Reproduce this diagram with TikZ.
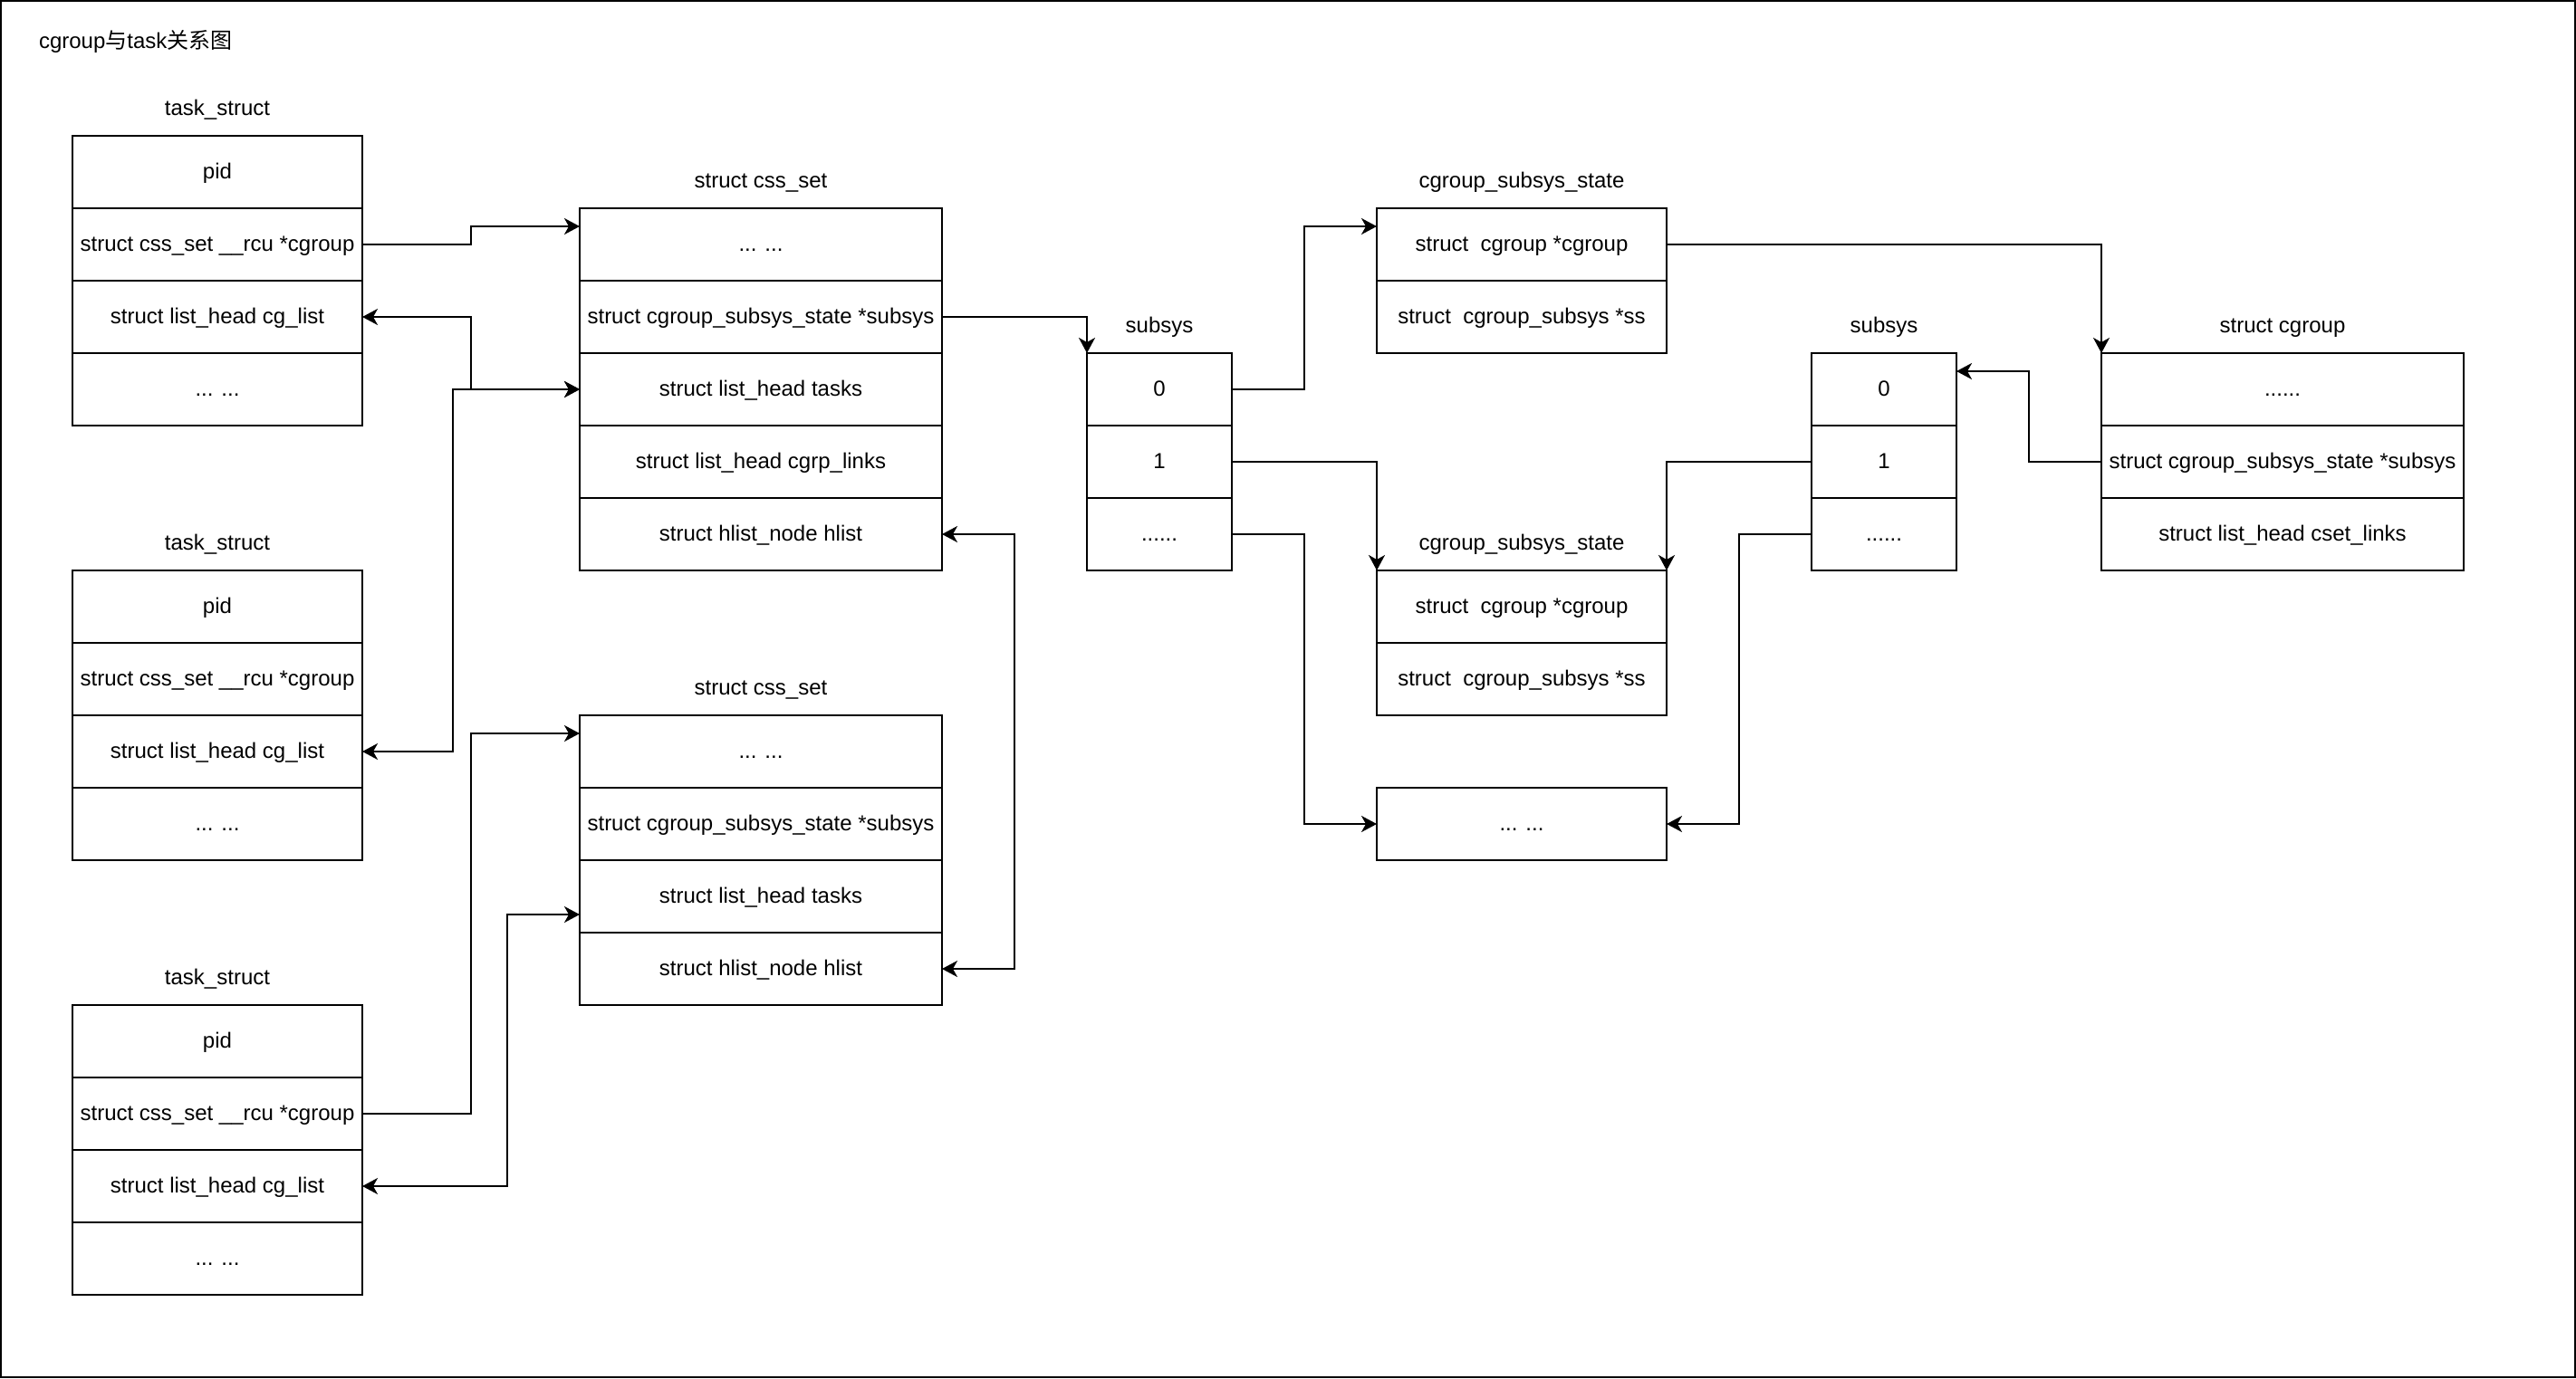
\documentclass[tikz,border=0pt]{standalone}
\usepackage{fontspec}
\setmainfont{Liberation Sans}
\newfontfamily\cjkfont{Noto Sans CJK SC}
\usetikzlibrary{arrows.meta,calc}
\begin{document}
\begin{tikzpicture}[x=1pt,y=-1pt,
  every node/.style={font=\fontsize{12pt}{14pt}\selectfont, inner sep=0pt, outer sep=0pt, text height=9.5pt, text depth=2pt},
  fld/.style={draw, line width=1pt, minimum width=#1, minimum height=40pt, anchor=north west},
  tip/.tip={Stealth[length=8.5pt,width=9pt,inset=2.5pt]},
  conn/.style={line width=1pt, -tip},
  conn2/.style={line width=1pt, tip-tip}]
\useasboundingbox (0,0) rectangle (1422,761);
\draw[line width=1pt] (0.5,0.5) rectangle (1421.5,760.5);

\node[anchor=west] (title) at (21.5,23) {cgroup{\cjkfont 与}task{\cjkfont 关系图}};

% task_struct 1
\node[fld=160pt] (t1r1) at (40,75) {pid};
\node[fld=160pt] (t1r2) at (t1r1.south west) {struct css\_set \_\_rcu *cgroup};
\node[fld=160pt] (t1r3) at (t1r2.south west) {struct list\_head cg\_list};
\node[fld=160pt] (t1r4) at (t1r3.south west) {... ...};
\node (t1lbl) at ($(t1r1.north)+(0,-15)$) {task\_struct};

% task_struct 2
\node[fld=160pt] (t2r1) at (40,315) {pid};
\node[fld=160pt] (t2r2) at (t2r1.south west) {struct css\_set \_\_rcu *cgroup};
\node[fld=160pt] (t2r3) at (t2r2.south west) {struct list\_head cg\_list};
\node[fld=160pt] (t2r4) at (t2r3.south west) {... ...};
\node (t2lbl) at ($(t2r1.north)+(0,-15)$) {task\_struct};

% task_struct 3
\node[fld=160pt] (t3r1) at (40,555) {pid};
\node[fld=160pt] (t3r2) at (t3r1.south west) {struct css\_set \_\_rcu *cgroup};
\node[fld=160pt] (t3r3) at (t3r2.south west) {struct list\_head cg\_list};
\node[fld=160pt] (t3r4) at (t3r3.south west) {... ...};
\node (t3lbl) at ($(t3r1.north)+(0,-15)$) {task\_struct};

% css_set 1
\node[fld=200pt] (cs1r1) at (320,115) {... ...};
\node[fld=200pt] (cs1r2) at (cs1r1.south west) {struct cgroup\_subsys\_state *subsys};
\node[fld=200pt] (cs1r3) at (cs1r2.south west) {struct list\_head tasks};
\node[fld=200pt] (cs1r4) at (cs1r3.south west) {struct list\_head cgrp\_links};
\node[fld=200pt] (cs1r5) at (cs1r4.south west) {struct hlist\_node hlist};
\node (cs1lbl) at ($(cs1r1.north)+(0,-15)$) {struct css\_set};

% css_set 2
\node[fld=200pt] (cs2r1) at (320,395) {... ...};
\node[fld=200pt] (cs2r2) at (cs2r1.south west) {struct cgroup\_subsys\_state *subsys};
\node[fld=200pt] (cs2r3) at (cs2r2.south west) {struct list\_head tasks};
\node[fld=200pt] (cs2r4) at (cs2r3.south west) {struct hlist\_node hlist};
\node (cs2lbl) at ($(cs2r1.north)+(0,-15)$) {struct css\_set};

% subsys left
\node[fld=80pt] (ss1r1) at (600,195) {0};
\node[fld=80pt] (ss1r2) at (ss1r1.south west) {1};
\node[fld=80pt] (ss1r3) at (ss1r2.south west) {......};
\node (ss1lbl) at ($(ss1r1.north)+(0,-15)$) {subsys};

% cgroup_subsys_state 1
\node[fld=160pt] (css1a) at (760,115) {struct~~cgroup *cgroup};
\node[fld=160pt] (css1b) at (css1a.south west) {struct~~cgroup\_subsys *ss};
\node (css1lbl) at ($(css1a.north)+(0,-15)$) {cgroup\_subsys\_state};

% cgroup_subsys_state 2
\node[fld=160pt] (css2a) at (760,315) {struct~~cgroup *cgroup};
\node[fld=160pt] (css2b) at (css2a.south west) {struct~~cgroup\_subsys *ss};
\node (css2lbl) at ($(css2a.north)+(0,-15)$) {cgroup\_subsys\_state};

% dots box
\node[fld=160pt] (dots) at (760,435) {... ...};

% subsys right
\node[fld=80pt] (ss2r1) at (1000,195) {0};
\node[fld=80pt] (ss2r2) at (ss2r1.south west) {1};
\node[fld=80pt] (ss2r3) at (ss2r2.south west) {......};
\node (ss2lbl) at ($(ss2r1.north)+(0,-15)$) {subsys};

% struct cgroup
\node[fld=200pt] (cg1) at (1160,195) {......};
\node[fld=200pt] (cg2) at (cg1.south west) {struct cgroup\_subsys\_state *subsys};
\node[fld=200pt] (cg3) at (cg2.south west) {struct list\_head cset\_links};
\node (cglbl) at ($(cg1.north)+(0,-15)$) {struct cgroup};

% connectors
\draw[conn] (t1r2.east) -- ++(60,0) |- ($(cs1r1.north west)!0.25!(cs1r1.south west)$);
\draw[conn2] (t1r3.east) -- ++(60,0) |- (cs1r3.west);
\draw[conn2] (t2r3.east) -- ++(50,0) |- (cs1r3.west);
\draw[conn] (cs1r2.east) -| (ss1r1.north west);
\draw[conn2] (cs1r5.east) -- ++(40,0) |- (cs2r4.east);
\draw[conn] (t3r2.east) -- ++(60,0) |- ($(cs2r1.north west)!0.25!(cs2r1.south west)$);
\draw[conn2] (t3r3.east) -- ++(80,0) |- ($(cs2r3.north west)!0.75!(cs2r3.south west)$);
\draw[conn] (ss1r1.east) -- ++(40,0) |- ($(css1a.north west)!0.25!(css1a.south west)$);
\draw[conn] (ss1r2.east) -| (css2a.north west);
\draw[conn] (ss1r3.east) -- ++(40,0) |- (dots.west);
\draw[conn] (css1a.east) -| (cg1.north west);
\draw[conn] (ss2r2.west) -| (css2a.north east);
\draw[conn] (ss2r3.west) -- ++(-40,0) |- (dots.east);
\draw[conn] (cg2.west) -- ++(-40,0) |- ($(ss2r1.north east)!0.25!(ss2r1.south east)$);
\end{tikzpicture}
\end{document}
